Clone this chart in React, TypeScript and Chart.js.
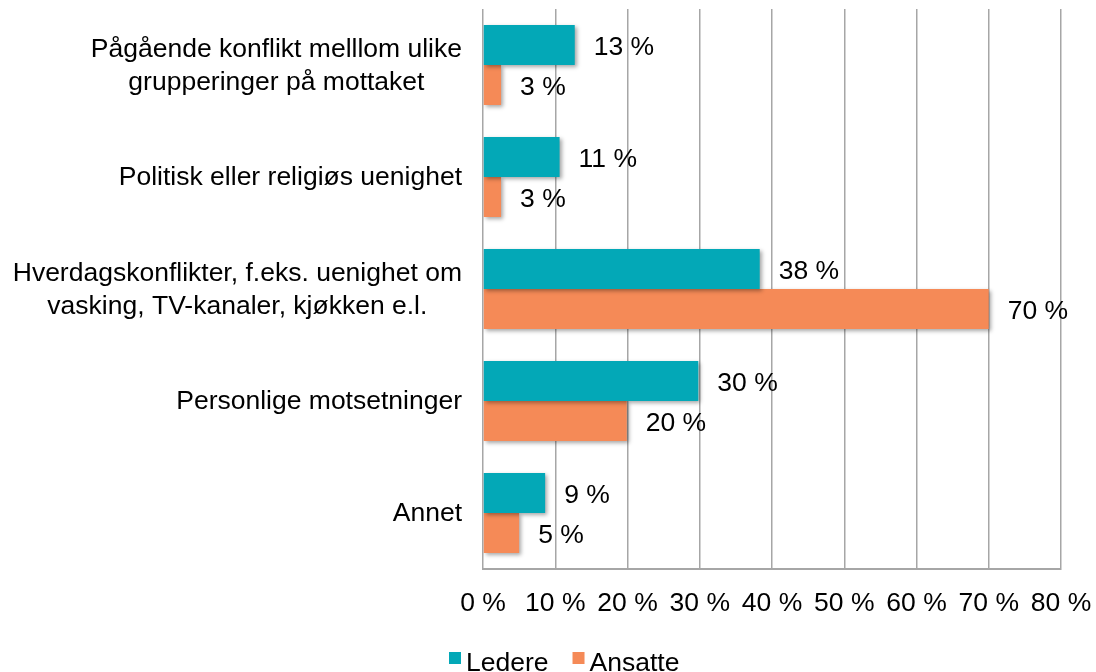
import React, { useEffect, useRef } from "react";
import { Chart, registerables } from "chart.js";

Chart.register(...registerables);

const categories: string[][] = [
  ["Pågående konflikt melllom ulike", "grupperinger på mottaket"],
  ["Politisk eller religiøs uenighet"],
  ["Hverdagskonflikter, f.eks. uenighet om", "vasking, TV-kanaler, kjøkken e.l."],
  ["Personlige motsetninger"],
  ["Annet"],
];
const seriesNames = ["Ledere", "Ansatte"];
const ledere = [12.7, 10.6, 38.3, 29.8, 8.6];
const ansatte = [2.5, 2.5, 70, 19.9, 5];
const xTicks = [0, 10, 20, 30, 40, 50, 60, 70, 80];

const TEAL = "#03A8B7";
const ORANGE = "#F58A57";
const GRID = "#A6A6A6";
const FONT = '"Liberation Sans", Arial, Helvetica, sans-serif';
const FS = 26.5;

export default function App() {
  const ref = useRef<HTMLCanvasElement | null>(null);
  useEffect(() => {
    if (!ref.current) return;
    const shadowPlugin = {
      id: "shadow",
      beforeDatasetsDraw(chart: any) {
        const ctx = chart.ctx;
        ctx.save();
        ctx.shadowColor = "rgba(0,0,0,0.35)";
        ctx.shadowBlur = 4;
        ctx.shadowOffsetX = 2;
        ctx.shadowOffsetY = 2;
      },
      afterDatasetsDraw(chart: any) {
        chart.ctx.restore();
      },
    };
    const labelPlugin = {
      id: "labels",
      afterDraw(chart: any) {
        const ctx = chart.ctx;
        ctx.save();
        ctx.font = `${FS}px ${FONT}`;
        ctx.fillStyle = "#000";
        // value labels
        chart.data.datasets.forEach((ds: any, i: number) => {
          const meta = chart.getDatasetMeta(i);
          meta.data.forEach((bar: any, j: number) => {
            ctx.textAlign = "left";
            ctx.textBaseline = "middle";
            ctx.fillText(`${Math.round(ds.data[j])} %`, bar.x + 19, bar.y + 3);
          });
        });
        // category labels
        const yScale = chart.scales.y;
        const right = chart.chartArea.left - 21;
        const lh = 32.5;
        categories.forEach((lines, j) => {
          const cy = yScale.getPixelForValue(j) + 1;
          const maxW = Math.max(...lines.map((l) => ctx.measureText(l).width));
          const cx = right - maxW / 2;
          ctx.textAlign = "center";
          ctx.textBaseline = "middle";
          lines.forEach((l, k) => {
            ctx.fillText(l, cx, cy + (k - (lines.length - 1) / 2) * lh);
          });
        });
        // legend
        let x = 449;
        const baseY = 671;
        ctx.textAlign = "left";
        ctx.textBaseline = "alphabetic";
        seriesNames.forEach((name, i) => {
          ctx.fillStyle = i === 0 ? TEAL : ORANGE;
          ctx.fillRect(x, 652, 12, 12);
          x += 17;
          ctx.fillStyle = "#000";
          ctx.fillText(name, x, baseY);
          x += ctx.measureText(name).width + 24;
        });
        ctx.restore();
      },
    };
    const chart = new Chart(ref.current, {
      type: "bar",
      data: {
        labels: categories,
        datasets: [
          { label: seriesNames[0], data: ledere, backgroundColor: TEAL },
          { label: seriesNames[1], data: ansatte, backgroundColor: ORANGE },
        ],
      },
      options: {
        indexAxis: "y",
        responsive: false,
        animation: false,
        datasets: { bar: { categoryPercentage: 0.714, barPercentage: 1 } },
        layout: { padding: { top: 9, right: 35, bottom: 0, left: 0 } },
        plugins: { legend: { display: false }, tooltip: { enabled: false } },
        scales: {
          y: {
            type: "category",
            ticks: { display: false },
            grid: { display: false },
            border: { display: false },
            afterFit: (s: any) => {
              s.width = 483;
              s.paddingTop = 0;
              s.paddingBottom = 0;
            },
          },
          x: {
            min: 0,
            max: 80,
            afterBuildTicks: (s: any) => {
              s.ticks = xTicks.map((v) => ({ value: v }));
            },
            ticks: {
              autoSkip: false,
              maxRotation: 0,
              padding: 19,
              color: "#000",
              font: { family: FONT, size: FS },
              callback: (v: any) => `${v} %`,
            },
            grid: { color: GRID, lineWidth: 1.5, drawTicks: false, tickLength: 0 },
            border: { display: true, color: GRID, width: 2 },
            afterFit: (s: any) => {
              s.height = 103;
              s.paddingLeft = 0;
              s.paddingRight = 0;
            },
          },
        },
      } as any,
      plugins: [shadowPlugin, labelPlugin],
    });
    return () => chart.destroy();
  }, []);
  return (
    <div style={{ position: "fixed", left: 0, top: 0, width: 1096, height: 672, background: "#fff" }}>
      <canvas ref={ref} width={1096} height={672} />
    </div>
  );
}
